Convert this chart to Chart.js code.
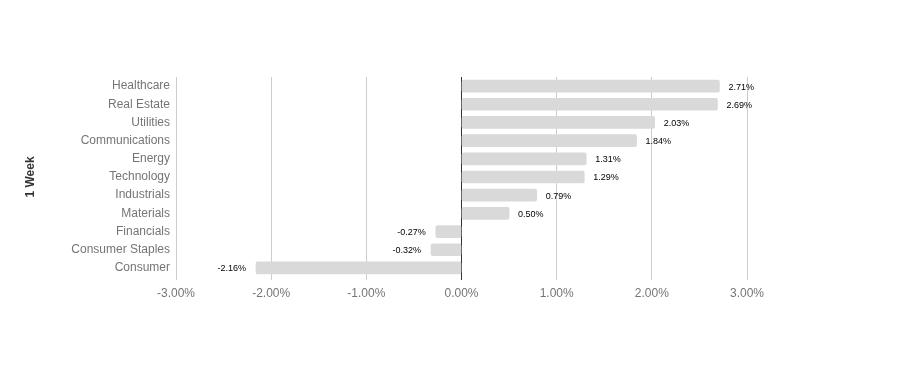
<!DOCTYPE html>
<html>
<head>
<meta charset="utf-8">
<script src="https://cdn.jsdelivr.net/npm/chart.js@4"></script>
<style>
  body { margin: 0; background: #fff; }
  canvas { display: block; }
</style>
</head>
<body>
<canvas id="sector-chart" width="924" height="391"></canvas>
<script>
// DATA
const sectors = ["Healthcare", "Real Estate", "Utilities", "Communications", "Energy", "Technology",
    "Industrials", "Materials", "Financials", "Consumer Staples", "Consumer"];
const weekReturns = [2.71, 2.69, 2.03, 1.84, 1.31, 1.29, 0.79, 0.50, -0.27, -0.32, -2.16];
const axisTitle = "1 Week";

const FONT = "'Liberation Sans', Arial, sans-serif";

// draws the small value labels next to each bar
const valueLabels = {
    id: "valueLabels",
    afterDatasetsDraw(chart) {
        const c = chart.ctx;
        const meta = chart.getDatasetMeta(0);
        c.save();
        c.font = "9px " + FONT;
        c.fillStyle = "#000";
        c.textBaseline = "middle";
        meta.data.forEach((bar, i) => {
            const v = weekReturns[i];
            const txt = v.toFixed(2) + "%";
            if (v >= 0) {
                c.textAlign = "left";
                c.fillText(txt, bar.x + 9, bar.y + 1);
            } else {
                c.textAlign = "right";
                c.fillText(txt, bar.x - 10, bar.y + 1);
            }
        });
        c.restore();
    },
};

const ctx = document.getElementById("sector-chart").getContext("2d");

const myChart = new Chart(ctx, {
    type: "bar",
    data: {
        labels: sectors,
        datasets: [
            {
                data: weekReturns,
                backgroundColor: "#d9d9d9",
                barThickness: 12,
                borderRadius: 2,
                borderSkipped: false,
            },
        ],
    },
    options: {
        indexAxis: "y",
        responsive: false,
        animation: false,
        layout: { padding: { top: 77, right: 177, bottom: 0, left: 0 } },
        plugins: {
            legend: { display: false },
            tooltip: { enabled: false },
        },
        scales: {
            x: {
                min: -3,
                max: 3,
                afterFit: (scale) => { scale.height = 114; },
                border: { display: false },
                grid: {
                    color: (c) => (c.tick && c.tick.value === 0 ? "#333" : "#ccc"),
                    lineWidth: 1,
                    drawTicks: true,
                    tickLength: 3,
                },
                ticks: {
                    stepSize: 1,
                    padding: 6,
                    color: "#757575",
                    font: { family: FONT, size: 12 },
                    callback: (v) => v.toFixed(2) + "%",
                },
            },
            y: {
                afterFit: (scale) => { scale.width = 176; },
                border: { display: false },
                grid: { display: false, drawTicks: false },
                ticks: {
                    padding: 6,
                    color: "#757575",
                    font: { family: FONT, size: 12 },
                },
                title: {
                    display: true,
                    text: axisTitle,
                    color: "#333",
                    font: { family: FONT, size: 12, weight: "bold" },
                    padding: { top: 23, bottom: 0 },
                },
            },
        },
    },
    plugins: [valueLabels],
});
</script>
</body>
</html>
